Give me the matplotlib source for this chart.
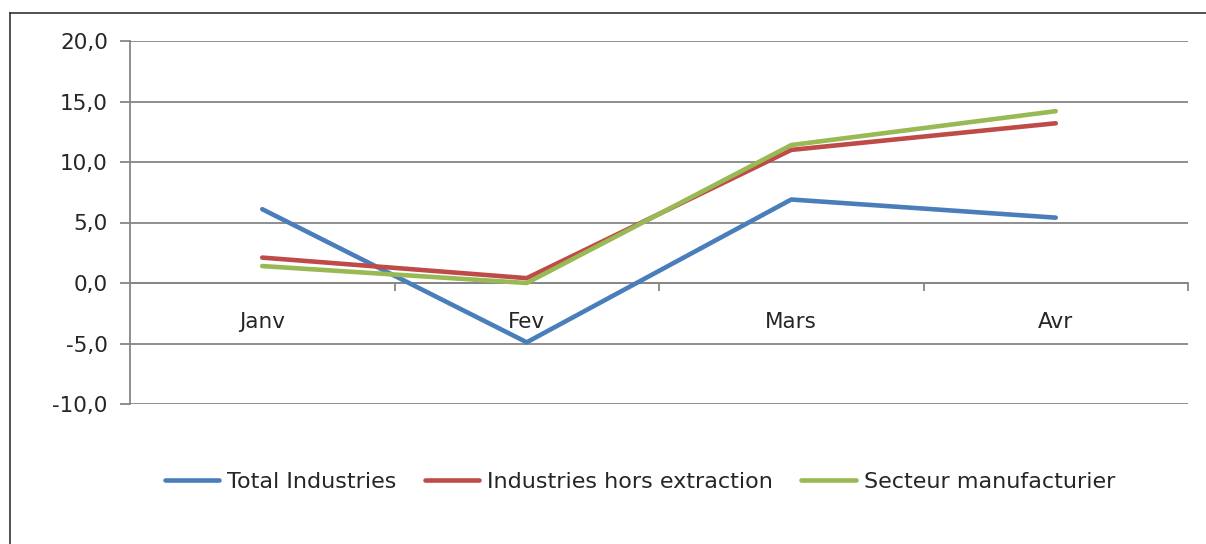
import matplotlib
matplotlib.use("Agg")
import matplotlib.pyplot as plt
from matplotlib.ticker import FuncFormatter, FixedLocator
from matplotlib.lines import Line2D

categories = ["Janv", "Fev", "Mars", "Avr"]
total_industries = [6.1, -4.9, 6.9, 5.4]
hors_extraction = [2.1, 0.4, 11.0, 13.2]
manufacturier = [1.4, 0.0, 11.4, 14.2]
series_names = ["Total Industries", "Industries hors extraction", "Secteur manufacturier"]
colors = ["#4A7EBB", "#BE4B48", "#98B954"]
y_ticks = [-10, -5, 0, 5, 10, 15, 20]

plt.rcParams['font.family'] = ['DejaVu Sans']
fig = plt.figure(figsize=(12.06, 5.44), dpi=100)
ax = fig.add_axes([130/1206, 1-404/544, 1058/1206, 363/544])

x = list(range(len(categories)))
for vals, c, name in zip([total_industries, hors_extraction, manufacturier], colors, series_names):
    ax.plot(x, vals, color=c, lw=3.3, label=name, solid_capstyle='round', zorder=3)

ax.set_xlim(-0.5, len(categories) - 0.5)
ax.set_ylim(-10, 20)
grid_c = "#868686"
txt_c = "#262626"
ax.set_yticks(y_ticks)
ax.yaxis.set_major_formatter(FuncFormatter(lambda v, p: f"{v:.1f}".replace(".", ",")))
ax.grid(axis='y', color=grid_c, lw=1.3, zorder=1)
ax.tick_params(axis='y', length=7, width=1.3, color=grid_c, labelsize=15.5, labelcolor=txt_c, pad=9)

for s in ['top', 'right']:
    ax.spines[s].set_visible(False)
ax.spines['left'].set_color(grid_c)
ax.spines['left'].set_linewidth(1.3)
ax.spines['bottom'].set_position(('data', 0))
ax.spines['bottom'].set_color(grid_c)
ax.spines['bottom'].set_linewidth(1.3)

ax.xaxis.set_major_locator(FixedLocator(x))
ax.set_xticklabels(categories)
ax.xaxis.set_minor_locator(FixedLocator([i + 0.5 for i in x]))
ax.tick_params(axis='x', which='major', length=0, pad=21, labelsize=15.5, labelcolor=txt_c)
ax.tick_params(axis='x', which='minor', length=6, width=1.3, color=grid_c, direction='out')

handles = [Line2D([0], [0], color=c, lw=3.3, solid_capstyle='round') for c in colors]
fig.legend(handles, series_names, loc='center', bbox_to_anchor=(640/1206, 1-482/544),
           ncol=3, frameon=False, fontsize=16, handlelength=2.45, handletextpad=0.36,
           columnspacing=1.26, labelcolor=txt_c)

# outer frame
fig.add_artist(Line2D([10/1206, 1.0], [1-13/544, 1-13/544], color="#333333", lw=1.2, transform=fig.transFigure))
fig.add_artist(Line2D([10/1206, 10/1206], [1-13/544, 0], color="#333333", lw=1.2, transform=fig.transFigure))

fig.savefig("out.png", dpi=100)
